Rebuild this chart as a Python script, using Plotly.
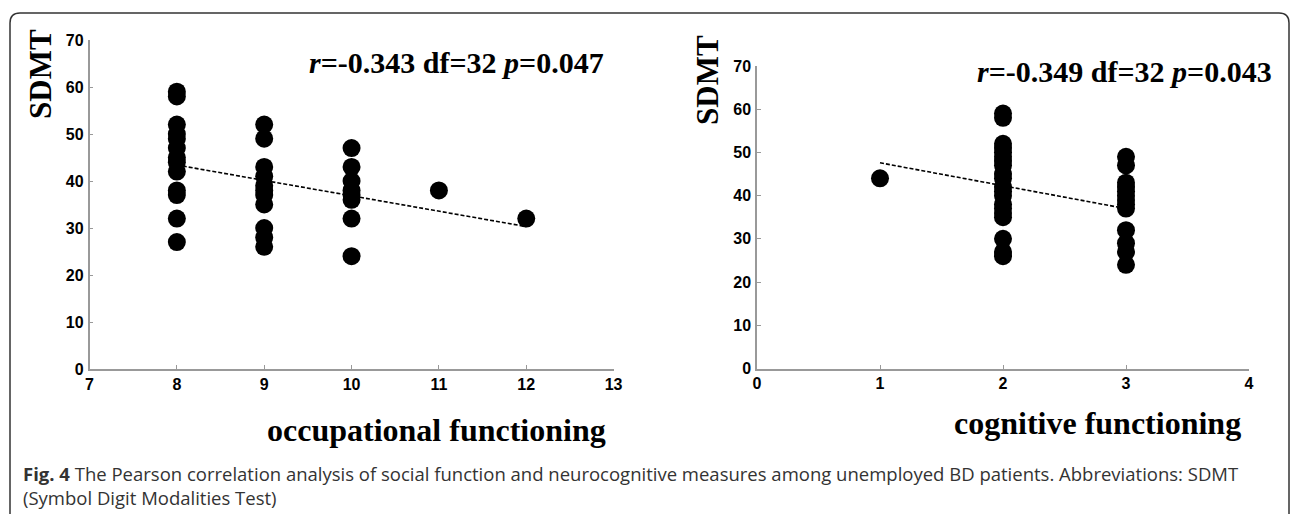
import plotly.graph_objects as go

W, H = 1292, 514

# ---- Data ----
occ_x = [8]*13 + [9]*11 + [10]*8 + [11, 12]
occ_y = [59, 58, 52, 50, 49, 47, 45, 44, 42, 38, 37, 32, 27,
         52, 49, 43, 41, 39, 38, 37, 35, 30, 28, 26,
         47, 43, 40, 38, 37, 36, 32, 24,
         38, 32]
occ_fit_x = [8, 12]
occ_fit_y = [43.4, 30.3]

cog_x = [1] + [2]*20 + [3]*13
cog_y = [44,
         59, 58, 52, 51, 50, 49, 48, 47, 45, 44, 42, 41, 40, 38, 37, 36, 35, 30, 27, 26,
         49, 47, 43, 42, 41, 40, 39, 38, 37, 32, 29, 27, 24]
cog_fit_x = [1, 3]
cog_fit_y = [47.6, 37.0]

y_ticks = [0, 10, 20, 30, 40, 50, 60, 70]
occ_ticks = [7, 8, 9, 10, 11, 12, 13]
cog_ticks = [0, 1, 2, 3, 4]

left_stats = "<i>r</i>=-0.343 df=32 <i>p</i>=0.047"
right_stats = "<i>r</i>=-0.349 df=32 <i>p</i>=0.043"
caption = ("<b>Fig. 4</b> The Pearson correlation analysis of social function and neurocognitive "
           "measures among unemployed BD patients. Abbreviations: SDMT<br>(Symbol Digit Modalities Test)")

def px(x):
    return x / W

def py(y):
    return 1 - y / H

fig = go.Figure()
marker = dict(color="black", size=18, line=dict(width=0))
line = dict(color="black", width=1.6, dash="4px,2px")

fig.add_trace(go.Scatter(x=occ_x, y=occ_y, mode="markers", marker=marker, xaxis="x", yaxis="y", showlegend=False))
fig.add_trace(go.Scatter(x=occ_fit_x, y=occ_fit_y, mode="lines", line=line, xaxis="x", yaxis="y", showlegend=False))
fig.add_trace(go.Scatter(x=cog_x, y=cog_y, mode="markers", marker=marker, xaxis="x2", yaxis="y2", showlegend=False))
fig.add_trace(go.Scatter(x=cog_fit_x, y=cog_fit_y, mode="lines", line=line, xaxis="x2", yaxis="y2", showlegend=False))

tickfont = dict(family="Liberation Sans, Arial, sans-serif", size=16, color="black", weight="bold")
axcommon = dict(showline=True, linecolor="#999999", linewidth=1.5, showgrid=False, zeroline=False,
                ticks="inside", ticklen=4, tickwidth=1, tickcolor="#999999", tickfont=tickfont)

fig.update_layout(
    width=W, height=H,
    margin=dict(l=0, r=0, t=0, b=0, autoexpand=False),
    paper_bgcolor="white", plot_bgcolor="white",
    xaxis=dict(domain=[px(89.5), px(613.6)], range=[7, 13], tickvals=occ_ticks, anchor="y", **axcommon),
    yaxis=dict(domain=[py(369), py(40)], range=[0, 70], tickvals=y_ticks, anchor="x",
               ticklabelstandoff=1, **axcommon),
    xaxis2=dict(domain=[px(757), px(1249)], range=[0, 4], tickvals=cog_ticks, anchor="y2", **axcommon),
    yaxis2=dict(domain=[py(368.5), py(66)], range=[0, 70], tickvals=y_ticks, anchor="x2",
                ticklabelstandoff=1, **axcommon),
)

serif = "Liberation Serif, Times New Roman, serif"
ann = []
ann.append(dict(text="<b>SDMT</b>", x=px(41), y=py(74), textangle=-90,
                font=dict(family=serif, size=31, color="black")))
ann.append(dict(text="<b>SDMT</b>", x=px(707), y=py(80), textangle=-90,
                font=dict(family=serif, size=31, color="black")))
ann.append(dict(text="<b>" + left_stats + "</b>", x=px(457), y=py(62),
                font=dict(family=serif, size=30, color="black")))
ann.append(dict(text="<b>" + right_stats + "</b>", x=px(1124), y=py(72),
                font=dict(family=serif, size=30, color="black")))
ann.append(dict(text="<b>occupational functioning</b>", x=px(436), y=py(430),
                font=dict(family=serif, size=32, color="black")))
ann.append(dict(text="<b>cognitive functioning</b>", x=px(1097), y=py(423),
                font=dict(family=serif, size=32, color="black")))
ann.append(dict(text=caption, x=px(21), y=py(459), xanchor="left", yanchor="top", align="left",
                font=dict(family="Open Sans, Noto Sans, sans-serif", size=18.5, color="#333333")))
for a in ann:
    a.setdefault("xanchor", "center")
    a.setdefault("yanchor", "middle")
    a.update(xref="paper", yref="paper", showarrow=False)
fig.update_layout(annotations=ann)

# rounded frame around the figure panel
x0, x1, yt, yb, r = 10, 1289, 13, 540, 10
path = (f"M {px(x0)},{py(yb)} L {px(x0)},{py(yt + r)} Q {px(x0)},{py(yt)} {px(x0 + r)},{py(yt)} "
        f"L {px(x1 - r)},{py(yt)} Q {px(x1)},{py(yt)} {px(x1)},{py(yt + r)} L {px(x1)},{py(yb)}")
fig.add_shape(type="path", path=path, xref="paper", yref="paper",
              line=dict(color="#333333", width=1.5))

fig.write_html("out.html", config={"displayModeBar": False},
               post_script="document.body.style.margin='0';")
